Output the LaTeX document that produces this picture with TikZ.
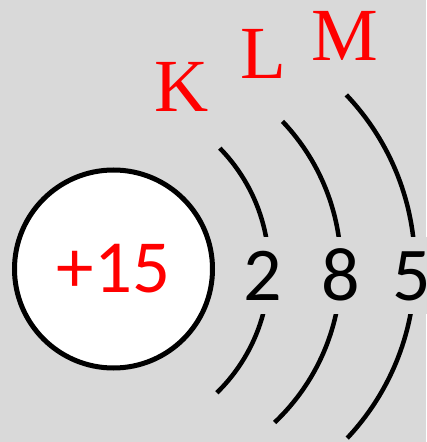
\documentclass[tikz,border=0pt]{standalone}
\usepackage{fontspec}
\setmainfont{Liberation Serif}
\newfontfamily\calibri{Carlito}
\definecolor{paper}{HTML}{D9D9D9}
\definecolor{charge}{HTML}{FF0000}
\tikzset{shell/.style={line width=4.5pt,black},
nucleus/.style={circle,draw,line width=5pt,fill=white,minimum size=198pt,inner sep=0pt,text=charge,font=\calibri\fontsize{75}{80}\selectfont},
count/.style={fill=paper,anchor=base,inner xsep=10pt,inner ysep=4pt,text height=60pt,text depth=9pt,font=\calibri\fontsize{76}{80}\selectfont},
shellname/.style={anchor=base,text=charge,font=\fontsize{75}{80}\selectfont}}

\begin{document}
\begin{tikzpicture}[x=1pt,y=1pt]
\fill[paper] (0,0) rectangle (426,442);
\useasboundingbox (0,0) rectangle (426,442);
\node[nucleus] (nuc) at (113.5,173) {+15};
\draw[shell] (96,173) ++(-45.7:173) arc[start angle=-45.7,end angle=44.3,radius=173];
\draw[shell] (128,174) ++(-46.5:213) arc[start angle=-46.5,end angle=43.5,radius=213];
\draw[shell] (165,175) ++(-43.2:250) arc[start angle=-43.2,end angle=43.5,radius=250];
\node[count] (nK) at (262.5,141) {2};
\node[count] (nL) at (341,141) {8};
\node[count] (nM) at (412,141) {5};
\node[shellname] (K) at (181.5,330) {K};
\node[shellname] (L) at (263.5,363) {L};
\node[shellname] (M) at (345,381) {M};
\end{tikzpicture}
\end{document}
